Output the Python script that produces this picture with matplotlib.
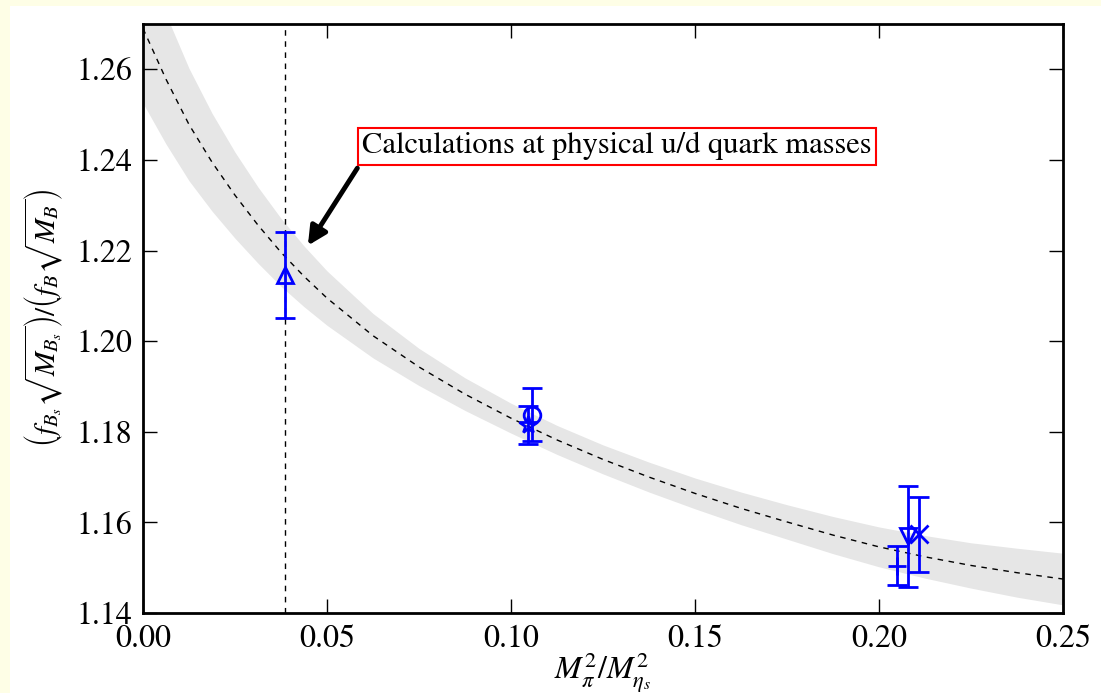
import matplotlib
matplotlib.use("Agg")
import matplotlib.pyplot as plt
from matplotlib.patches import Rectangle

plt.rcParams['font.family'] = ['STIXGeneral', 'DejaVu Serif']
plt.rcParams['mathtext.fontset'] = 'stix'

# fit curve and its error band
fit_x = [0.0, 0.00625, 0.0125, 0.01875, 0.025, 0.03125, 0.0375, 0.04375, 0.05, 0.0625, 0.075,
         0.0875, 0.1, 0.1125, 0.125, 0.1375, 0.15, 0.1625, 0.175, 0.1875, 0.2, 0.2125, 0.225,
         0.2375, 0.25]
fit_y = [1.2690, 1.2578, 1.2478, 1.2395, 1.2322, 1.2256, 1.2196, 1.2143, 1.2095, 1.2012, 1.1943,
         1.1883, 1.1830, 1.1782, 1.1739, 1.1700, 1.1664, 1.1631, 1.1601, 1.1572, 1.1546, 1.1524,
         1.1505, 1.1489, 1.1475]
fit_err = [0.0165, 0.0143, 0.0124, 0.0108, 0.0095, 0.0084, 0.0075, 0.0067, 0.0060, 0.0049, 0.0041,
           0.0036, 0.0033, 0.0032, 0.0032, 0.0033, 0.0034, 0.0036, 0.0038, 0.0041, 0.0044, 0.0047,
           0.0050, 0.0054, 0.0057]

# lattice points
pt_x = [0.0387, 0.1057, 0.1045, 0.2049, 0.2079, 0.2109]
pt_y = [1.2146, 1.1838, 1.1815, 1.1504, 1.1569, 1.1574]
pt_err = [0.0094, 0.0059, 0.0042, 0.0043, 0.0112, 0.0083]
pt_marker = ['^', 'o', '*', '+', 'v', 'x']

phys_x = 0.0387

fig = plt.figure(figsize=(11.01, 6.93), dpi=100)
fig.patch.set_facecolor('#fefee6')
# white panel, yellow strip left and top
fig.patches.append(Rectangle((10 / 1101, 0), 1, 1 - 6 / 693, transform=fig.transFigure,
                             facecolor='white', edgecolor='none', zorder=-10))
ax = fig.add_axes([0.1299, 0.1154, 0.8356, 0.85])

lo = [y - e for y, e in zip(fit_y, fit_err)]
hi = [y + e for y, e in zip(fit_y, fit_err)]
ax.fill_between(fit_x, lo, hi, color='0.9', lw=0)
ax.plot(fit_x, fit_y, 'k--', lw=1, dashes=(4, 4))
ax.axvline(phys_x, color='k', ls='--', lw=1, dashes=(4, 4))

for x, y, e, m in zip(pt_x, pt_y, pt_err, pt_marker):
    ms = 12 if m in ('^', 'v', 'o') else 13
    ax.errorbar(x, y, yerr=e, fmt=m, color='blue', mfc='none', mec='blue', mew=2,
                ms=ms, elinewidth=2, capsize=7, capthick=2)

ax.annotate('Calculations at physical u/d quark masses', xy=(0.0448, 1.2211),
            xytext=(0.1288, 1.2430), ha='center', va='center', fontsize=22,
            bbox=dict(boxstyle='square,pad=0.15', fc='white', ec='red', lw=1.5),
            arrowprops=dict(arrowstyle='-|>', lw=3.5, color='black', mutation_scale=28,
                            relpos=(0, 0), shrinkA=2, shrinkB=0))

ax.set_xlim(0, 0.25)
ax.set_ylim(1.14, 1.27)
ax.set_xticks([0.0, 0.05, 0.10, 0.15, 0.20, 0.25])
ax.set_xticklabels(['0.00', '0.05', '0.10', '0.15', '0.20', '0.25'])
ax.set_yticks([1.14, 1.16, 1.18, 1.20, 1.22, 1.24, 1.26])
ax.set_yticklabels(['1.14', '1.16', '1.18', '1.20', '1.22', '1.24', '1.26'])
ax.tick_params(direction='in', length=10, width=1, labelsize=23, pad=8,
               top=True, right=True)
for s in ax.spines.values():
    s.set_linewidth(2)

ax.set_xlabel(r'$M_{\pi}^2/M_{\eta_s}^2$', fontsize=23, labelpad=-2)
ax.set_ylabel(r'$\left(f_{B_s}\sqrt{M_{B_s}}\right)/\left(f_B\sqrt{M_B}\right)$',
              fontsize=21, labelpad=8)

fig.savefig('out.png', dpi=100, facecolor=fig.get_facecolor())
